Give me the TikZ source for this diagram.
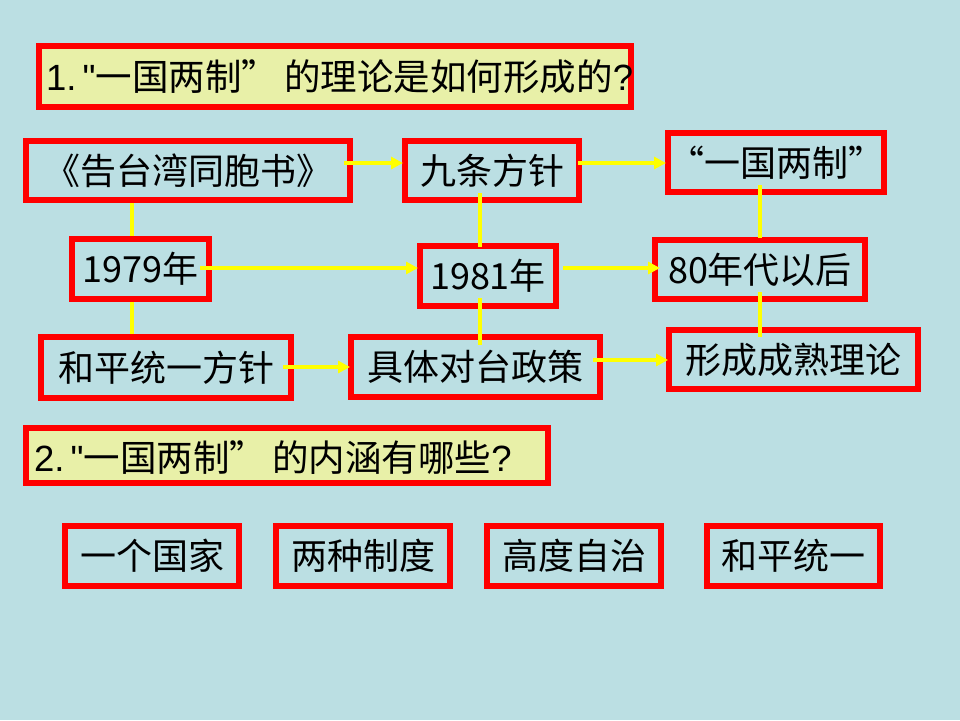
\documentclass[tikz,border=0pt]{standalone}
\usepackage{fontspec}
\setmainfont{Noto Sans CJK SC}
\newfontfamily\latf{Liberation Sans}
\usetikzlibrary{arrows.meta,calc}
\definecolor{bgc}{RGB}{187,223,227}
\definecolor{titlefill}{RGB}{232,240,168}
\definecolor{boxred}{RGB}{255,0,0}
\definecolor{lineyel}{RGB}{255,255,0}
\tikzset{
  redbox/.style={draw=boxred, line width=6pt, inner sep=0pt, font=\fontsize{36}{40}\selectfont},
  titlebox/.style={redbox, fill=titlefill},
  titletext/.style={anchor=west, inner sep=0pt, font=\fontsize{36.5}{40}\selectfont},
  link/.style={draw=lineyel, line width=4pt},
  arr/.style={link, -{Triangle[length=12pt,width=12pt]}}
}
\begin{document}
\begin{tikzpicture}[x=1pt,y=-1pt]
\fill[bgc] (0,0) rectangle (960,720);
\useasboundingbox (0,0) rectangle (960,720);

% titles
\node[titlebox, minimum width=592pt, minimum height=61pt] (t1) at (335,76.5) {};
\node[titletext] (t1txt) at (46,77) {{\latf 1.\,"}一国两制”\,的理论是如何形成的{\latf ?}};
\node[titlebox, minimum width=522pt, minimum height=55pt] (t2) at (287,455.5) {};
\node[titletext] (t2txt) at (34,458) {{\latf 2.\,"}一国两制”\,的内涵有哪些{\latf ?}};

% diagram boxes
\node[redbox, minimum width=324pt, minimum height=59pt] (gt) at (188,170.5) {《告台湾同胞书》};
\node[redbox, minimum width=174pt, minimum height=59pt] (jt) at (492,170.5) {九条方针};
\node[redbox, minimum width=198pt, minimum height=59pt] (yg) at (776,162.5) {“一国两制”};
\node[redbox, minimum width=137pt, minimum height=60pt] (y79) at (140.5,269) {1979年};
\node[redbox, minimum width=136pt, minimum height=60pt] (y81) at (488,276) {1981年};
\node[redbox, minimum width=210pt, minimum height=59pt] (y80) at (760,269.5) {80年代以后};
\node[redbox, minimum width=250pt, minimum height=61pt] (hp) at (166,367.5) {和平统一方针};
\node[redbox, minimum width=249pt, minimum height=60pt] (jtz) at (475.5,367) {具体对台政策};
\node[redbox, minimum width=249pt, minimum height=59pt] (xc) at (793.5,359.5) {形成成熟理论};

% bottom boxes
\node[redbox, minimum width=174pt, minimum height=60pt] (b1) at (152,556) {一个国家};
\node[redbox, minimum width=174pt, minimum height=60pt] (b2) at (363,556) {两种制度};
\node[redbox, minimum width=174pt, minimum height=60pt] (b3) at (574,556) {高度自治};
\node[redbox, minimum width=173pt, minimum height=60pt] (b4) at (793.5,556) {和平统一};

% connectors
\draw[arr] ($(gt.east)+(-9,-7.5)$) coordinate (s1) -- ($(s1 -| jt.west)+(1,0)$);
\draw[arr] ($(jt.east)+(-4,-7.5)$) coordinate (s2) -- ($(s2 -| yg.west)+(1,0)$);
\draw[link] ($(gt.south west)+(109,0)$) coordinate (s3) -- (s3 |- y79.north);
\draw[link] ($(y79.south west)+(63,0)$) coordinate (s4) -- (s4 |- hp.north);
\draw[arr] ($(y79.east)+(-12,-1)$) coordinate (s5) -- ($(s5 -| y81.west)+(1,0)$);
\draw[arr] ($(y81.east)+(4,-8)$) coordinate (s6) -- ($(s6 -| y80.west)+(8,0)$);
\draw[link] ($(jt.south)+(-12,-10)$) coordinate (s7) -- ($(s7 |- y81.north)+(0,4)$);
\draw[link] ($(y81.south)+(-8,-11)$) coordinate (s8) -- ($(s8 |- jtz.north)+(0,11)$);
\draw[arr] ($(hp.east)+(-11,-0.5)$) coordinate (s9) -- ($(s9 -| jtz.west)+(2,0)$);
\draw[arr] ($(jtz.east)+(-10,-7)$) coordinate (s10) -- ($(s10 -| xc.west)+(2,0)$);
\draw[link] ($(yg.south)+(-16,-10)$) coordinate (s11) -- ($(s11 |- y80.north)+(0,1)$);
\draw[link] ($(y80.south)+(0,-10)$) coordinate (s12) -- ($(s12 |- xc.north)+(0,10)$);
\end{tikzpicture}
\end{document}
